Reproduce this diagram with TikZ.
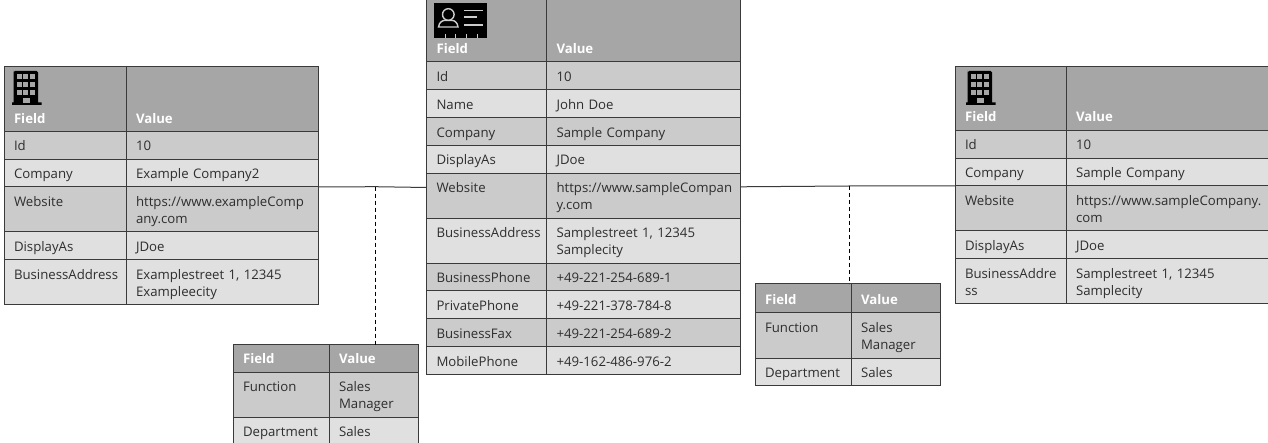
\documentclass[tikz,border=0pt]{standalone}
\usepackage{fontspec}
\setmainfont{Open Sans}
\usetikzlibrary{positioning}
\definecolor{headgray}{HTML}{A6A6A6}
\definecolor{darkgray}{HTML}{CBCBCB}
\definecolor{lightgray}{HTML}{E0E0E0}
\definecolor{linegray}{HTML}{3A3A3A}
\definecolor{textgray}{HTML}{2E2E2E}
\tikzset{
	cell/.style={draw=linegray,line width=1pt,text=textgray,inner sep=0pt,outer sep=0pt,align=left,
		font=\fontsize{13.2}{17}\selectfont,text width=#1,text height=19.5pt,text depth=8.3pt,
		execute at begin node={\leftskip=10pt\relax}},
	oddrow/.style={cell=#1,fill=darkgray},
	evenrow/.style={cell=#1,fill=lightgray},
	double/.style={text depth=25.5pt},
	headrow/.style 2 args={cell=#1,fill=headgray,text=white,text height=#2-8.3pt,
		font=\fontsize{13.2}{17}\selectfont\bfseries},
	building/.pic={
		\fill[black] (1.5,0) -- (1.5,2) -- (3,0.5) -- (24.5,0.5) -- (26,2) -- (26,32) -- (29.5,32) -- (29.5,34.5) -- (0,34.5) -- (0,32) -- (1.5,32) -- cycle;
		\foreach \col in {4.5,11,17.5} \foreach \row in {4,12,20}
			\fill[headgray] (\col,\row) rectangle ++(5,5);
		\fill[headgray] (11,27.5) rectangle (17.5,32.5);
	}
}
\begin{document}
\begin{tikzpicture}[x=1pt,y=-1pt]
	\useasboundingbox (0,0) rectangle (1268,443);
	\clip (0,0) rectangle (1268,443);

	% left company table
	\node[headrow={122pt}{64.4pt},anchor=north west] (leftHeadF) at (4,67) {Field};
	\node[headrow={192.5pt}{64.4pt}] (leftHeadV) [right=0pt of leftHeadF] {Value};
	\node[oddrow=122pt] (leftIdF) [below=0pt of leftHeadF] {Id};
	\node[oddrow=192.5pt] (leftIdV) [right=0pt of leftIdF] {10};
	\node[evenrow=122pt] (leftCompanyF) [below=0pt of leftIdF] {Company};
	\node[evenrow=192.5pt] (leftCompanyV) [right=0pt of leftCompanyF] {Example Company2};
	\node[oddrow=122pt,double] (leftWebF) [below=0pt of leftCompanyF] {Website};
	\node[oddrow=192.5pt,double] (leftWebV) [right=0pt of leftWebF] {https://www.exampleComp\\any.com};
	\node[evenrow=122pt] (leftDisplayF) [below=0pt of leftWebF] {DisplayAs};
	\node[evenrow=192.5pt] (leftDisplayV) [right=0pt of leftDisplayF] {JDoe};
	\node[evenrow=122pt,double] (leftAddrF) [below=0pt of leftDisplayF] {BusinessAddress};
	\node[evenrow=192.5pt,double] (leftAddrV) [right=0pt of leftAddrF] {Examplestreet 1, 12345\\Exampleecity};
	\pic at (12,70.5) {building};

	% middle contact table
	\node[headrow={120pt}{64pt},anchor=north west] (midHeadF) at (426.5,-2) {Field};
	\node[headrow={194pt}{64pt}] (midHeadV) [right=0pt of midHeadF] {Value};
	\node[oddrow=120pt] (midIdF) [below=0pt of midHeadF] {Id};
	\node[oddrow=194pt] (midIdV) [right=0pt of midIdF] {10};
	\node[evenrow=120pt] (midNameF) [below=0pt of midIdF] {Name};
	\node[evenrow=194pt] (midNameV) [right=0pt of midNameF] {John Doe};
	\node[oddrow=120pt] (midCompanyF) [below=0pt of midNameF] {Company};
	\node[oddrow=194pt] (midCompanyV) [right=0pt of midCompanyF] {Sample Company};
	\node[evenrow=120pt] (midDisplayF) [below=0pt of midCompanyF] {DisplayAs};
	\node[evenrow=194pt] (midDisplayV) [right=0pt of midDisplayF] {JDoe};
	\node[oddrow=120pt,double] (midWebF) [below=0pt of midDisplayF] {Website};
	\node[oddrow=194pt,double] (midWebV) [right=0pt of midWebF] {https://www.sampleCompan\\y.com};
	\node[evenrow=120pt,double] (midAddrF) [below=0pt of midWebF] {BusinessAddress};
	\node[evenrow=194pt,double] (midAddrV) [right=0pt of midAddrF] {Samplestreet 1, 12345\\Samplecity};
	\node[oddrow=120pt] (midPhoneF) [below=0pt of midAddrF] {BusinessPhone};
	\node[oddrow=194pt] (midPhoneV) [right=0pt of midPhoneF] {+49-221-254-689-1};
	\node[evenrow=120pt] (midPrivateF) [below=0pt of midPhoneF] {PrivatePhone};
	\node[evenrow=194pt] (midPrivateV) [right=0pt of midPrivateF] {+49-221-378-784-8};
	\node[oddrow=120pt] (midFaxF) [below=0pt of midPrivateF] {BusinessFax};
	\node[oddrow=194pt] (midFaxV) [right=0pt of midFaxF] {+49-221-254-689-2};
	\node[evenrow=120pt] (midMobileF) [below=0pt of midFaxF] {MobilePhone};
	\node[evenrow=194pt] (midMobileV) [right=0pt of midMobileF] {+49-162-486-976-2};
	% id card icon
	\fill[black] (434,3.3) rectangle (486.7,37.7);
	\draw[white!80!black,line width=1.4pt] (448.3,14.5) circle[radius=5.8];
	\draw[white!80!black,line width=1.4pt] (438.5,27) .. controls (439,22) and (443,20.5) .. (444,20.5) -- (452.5,20.5) .. controls (454,20.5) and (457.5,22) .. (458,27) -- cycle;
	\foreach \liney/\lineend in {10.7/482.7,17/477,25/482.7}
		\draw[white!80!black,line width=1.2pt] (464,\liney) -- (\lineend,\liney);
	\foreach \tickx in {445,455,466.7,477.3}
		\draw[white!80!black,line width=1pt] (\tickx,34.5) -- (\tickx,37.7);

	% right company table
	\node[headrow={111pt}{63.8pt},anchor=north west] (rightHeadF) at (955,66.5) {Field};
	\node[headrow={205pt}{63.8pt}] (rightHeadV) [right=0pt of rightHeadF] {Value};
	\node[oddrow=111pt] (rightIdF) [below=0pt of rightHeadF] {Id};
	\node[oddrow=205pt] (rightIdV) [right=0pt of rightIdF] {10};
	\node[evenrow=111pt] (rightCompanyF) [below=0pt of rightIdF] {Company};
	\node[evenrow=205pt] (rightCompanyV) [right=0pt of rightCompanyF] {Sample Company};
	\node[oddrow=111pt,double] (rightWebF) [below=0pt of rightCompanyF] {Website};
	\node[oddrow=205pt,double] (rightWebV) [right=0pt of rightWebF] {https://www.sampleCompany.\\com};
	\node[evenrow=111pt] (rightDisplayF) [below=0pt of rightWebF] {DisplayAs};
	\node[evenrow=205pt] (rightDisplayV) [right=0pt of rightDisplayF] {JDoe};
	\node[evenrow=111pt,double] (rightAddrF) [below=0pt of rightDisplayF] {BusinessAddre\\ss};
	\node[evenrow=205pt,double] (rightAddrV) [right=0pt of rightAddrF] {Samplestreet 1, 12345\\Samplecity};
	\pic at (966,70.5) {building};

	% small tables
	\node[headrow={96pt}{27.5pt},anchor=north west] (lowHeadF) at (233,344.5) {Field};
	\node[headrow={89.5pt}{27.5pt}] (lowHeadV) [right=0pt of lowHeadF] {Value};
	\node[oddrow=96pt,double] (lowFuncF) [below=0pt of lowHeadF] {Function};
	\node[oddrow=89.5pt,double] (lowFuncV) [right=0pt of lowFuncF] {Sales\\Manager};
	\node[evenrow=96pt] (lowDeptF) [below=0pt of lowFuncF] {Department};
	\node[evenrow=89.5pt] (lowDeptV) [right=0pt of lowDeptF] {Sales};

	\node[headrow={96pt}{29pt},anchor=north west] (highHeadF) at (755,284) {Field};
	\node[headrow={89.5pt}{29pt}] (highHeadV) [right=0pt of highHeadF] {Value};
	\node[oddrow=96pt,double] (highFuncF) [below=0pt of highHeadF] {Function};
	\node[oddrow=89.5pt,double] (highFuncV) [right=0pt of highFuncF] {Sales\\Manager};
	\node[evenrow=96pt] (highDeptF) [below=0pt of highFuncF] {Department};
	\node[evenrow=89.5pt] (highDeptV) [right=0pt of highDeptF] {Sales};

	% connectors
	\coordinate (leftJoin) at (375,186.7);
	\coordinate (rightJoin) at (849,186);
	\draw[linegray,line width=1pt] (leftWebV.north east) -- (leftJoin) -- ([yshift=-14.3pt]midWebF.north west);
	\draw[linegray,line width=1pt] ([yshift=-13.6pt]midWebV.north east) -- (rightJoin) -- (rightWebF.north west);
	\draw[black,line width=0.8pt,dash pattern=on 4pt off 3pt] (leftJoin) -- (leftJoin |- lowHeadV.north);
	\draw[black,line width=0.8pt,dash pattern=on 4pt off 3pt] (rightJoin) -- (rightJoin |- highHeadV.north);

\end{tikzpicture}
\end{document}
